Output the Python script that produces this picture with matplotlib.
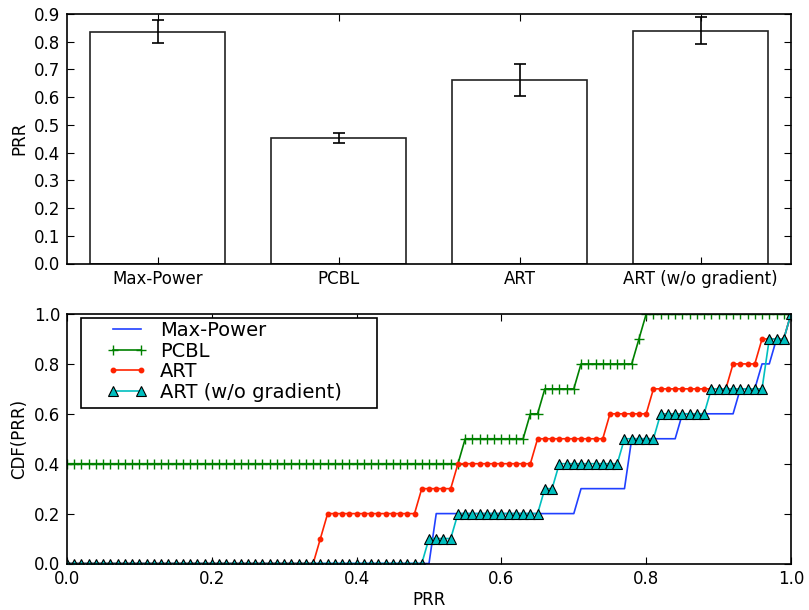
import numpy as np
import matplotlib
matplotlib.use("Agg")
import matplotlib.pyplot as plt
from matplotlib.patches import Rectangle

############## Daten ##############
methods = ["Max-Power", "PCBL", "ART", "ART (w/o gradient)"]
prr_mean = [0.836, 0.452, 0.662, 0.840]
prr_err = [0.041, 0.019, 0.057, 0.049]

# PRR pro Link (je 10 Links), daraus wird die CDF gezeichnet
prr_maxpower = [0.505, 0.505, 0.705, 0.775, 0.775, 0.845, 0.925, 0.955, 0.975, 0.995]
prr_pcbl = [0.0, 0.0, 0.0, 0.0, 0.545, 0.635, 0.655, 0.705, 0.785, 0.795]
prr_art = [0.345, 0.355, 0.485, 0.535, 0.645, 0.745, 0.805, 0.915, 0.955, 0.995]
prr_art_nograd = [0.495, 0.535, 0.655, 0.675, 0.765, 0.815, 0.885, 0.965, 0.965, 0.995]

x_ticks_cdf = [0.0, 0.2, 0.4, 0.6, 0.8, 1.0]
y_ticks_cdf = [0.0, 0.2, 0.4, 0.6, 0.8, 1.0]
y_ticks_bar = [0.0, 0.1, 0.2, 0.3, 0.4, 0.5, 0.6, 0.7, 0.8, 0.9]


def cdf(samples, grid):
    s = np.array(samples)
    return np.array([np.mean(s <= g + 1e-9) for g in grid])


plt.rcParams["font.family"] = "DejaVu Sans"
plt.rcParams["font.size"] = 12

fig = plt.figure(figsize=(8.09, 6.10), dpi=100)
ax1 = fig.add_axes([67 / 809, 1 - 263.5 / 610, 724 / 809, 249.5 / 610])
ax2 = fig.add_axes([67 / 809, 1 - 563.5 / 610, 724 / 809, 249.5 / 610])

for ax in (ax1, ax2):
    ax.tick_params(direction="in", top=True, right=True, length=5, width=0.8,
                   labelsize=12, pad=5)
    for sp in ax.spines.values():
        sp.set_linewidth(1.2)

############## Balken ##############
pos = np.arange(len(methods))
ax1.bar(pos + 0.125, prr_mean, width=0.75, align="edge", color="white",
        edgecolor="#222222", linewidth=1.2)
ax1.errorbar(pos + 0.5, prr_mean, yerr=prr_err, fmt="none", ecolor="black",
             elinewidth=1.2, capsize=4.5, capthick=1.2)
ax1.set_xlim(0, 4)
ax1.set_ylim(0, 0.9)
ax1.set_xticks(pos + 0.5)
ax1.set_xticklabels(methods)
ax1.set_yticks(y_ticks_bar)
ax1.set_yticklabels(["%.1f" % v for v in y_ticks_bar])
ax1.set_ylabel("PRR")

############## CDF ##############
grid = np.linspace(0, 1, 101)
ax2.plot(grid, cdf(prr_maxpower, grid), color="#2040ff", lw=1.2, label="Max-Power")
ax2.plot(grid, cdf(prr_pcbl, grid), color="#008000", lw=1.2, marker="+",
         markersize=7, mew=1.0, label="PCBL")
ax2.plot(grid, cdf(prr_art, grid), color="#ff2200", lw=1.2, marker="o",
         markersize=3.2, label="ART")
ax2.plot(grid, cdf(prr_art_nograd, grid), color="#00bfbf", lw=1.2, marker="^",
         markersize=7, markerfacecolor="#00bfbf", markeredgecolor="black",
         mew=0.8, label="ART (w/o gradient)")
ax2.set_xlim(0, 1)
ax2.set_ylim(0, 1)
ax2.set_xticks(x_ticks_cdf)
ax2.set_xticklabels(["%.1f" % v for v in x_ticks_cdf])
ax2.set_yticks(y_ticks_cdf)
ax2.set_yticklabels(["%.1f" % v for v in y_ticks_cdf])
ax2.set_xlabel("PRR", labelpad=2)
ax2.set_ylabel("CDF(PRR)")

# Legendenrahmen
frame = Rectangle((14 / 724, 1 - 94 / 249.5), 296 / 724, 90 / 249.5,
                  transform=ax2.transAxes, facecolor="white", edgecolor="black",
                  linewidth=1.2, zorder=4.9)
ax2.add_patch(frame)
leg = ax2.legend(loc="upper left", bbox_to_anchor=(39.7 / 724, 1 - 7 / 249.5),
                 frameon=False, fontsize=14, borderpad=0, borderaxespad=0,
                 handlelength=2.06, handletextpad=0.69, labelspacing=0.08,
                 numpoints=2)

fig.savefig("out.png", dpi=100, facecolor="white")
